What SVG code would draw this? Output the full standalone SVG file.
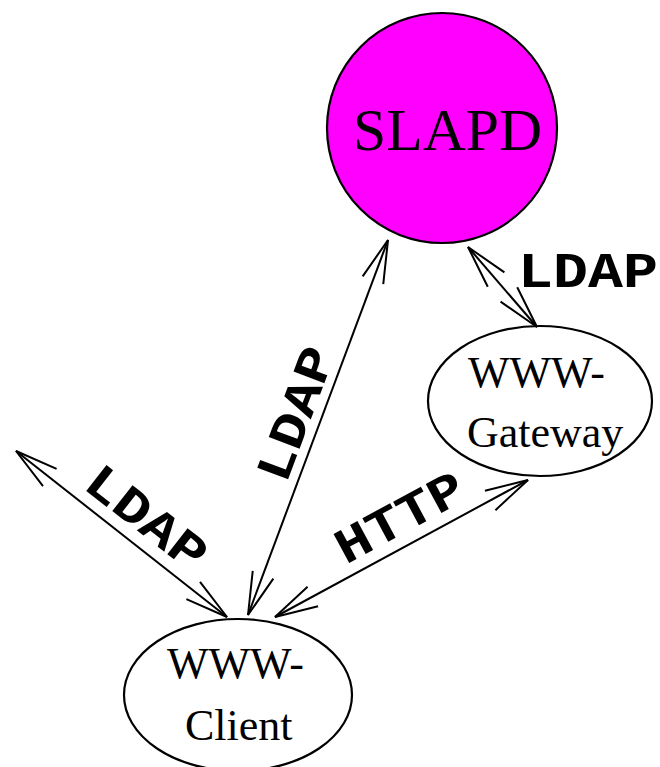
<svg xmlns="http://www.w3.org/2000/svg" width="660" height="767" viewBox="0 0 660 767">
<style>
.node{stroke:#000;stroke-width:2.2}
.lbl{font-family:"Liberation Serif","Times New Roman",serif;font-size:44px;fill:#000}
.conn{stroke:#000;stroke-width:2;fill:none}
.edge{font-family:"Liberation Mono","Courier New",monospace;font-weight:bold;font-size:50px;fill:#000}
</style>
<defs>
<marker id="ah" markerUnits="userSpaceOnUse" markerWidth="60" markerHeight="40" refX="0" refY="0" viewBox="-50 -20 60 40" orient="auto-start-reverse" overflow="visible">
<path d="M-43,-11 L0,0 L-43,11" fill="none" stroke="#000" stroke-width="2"/>
</marker>
</defs>
<g id="slapd">
<circle class="node" cx="442" cy="128" r="115" fill="#ff00ff"/>
<text class="lbl" x="353" y="150" style="font-size:59px" textLength="189" lengthAdjust="spacingAndGlyphs">SLAPD</text>
</g>
<g id="gateway">
<ellipse class="node" cx="540" cy="401" rx="112" ry="75" fill="#fff"/>
<text class="lbl" x="468" y="387">WWW-</text>
<text class="lbl" x="467" y="447">Gateway</text>
</g>
<g id="client">
<ellipse class="node" cx="238" cy="695" rx="114" ry="76" fill="#fff"/>
<text class="lbl" x="167" y="678">WWW-</text>
<text class="lbl" x="185" y="740">Client</text>
</g>
<g id="connectors">
<line class="conn" x1="468" y1="247" x2="537" y2="327" marker-start="url(#ah)" marker-end="url(#ah)"/>
<line class="conn" x1="388" y1="240" x2="248" y2="615" marker-start="url(#ah)" marker-end="url(#ah)"/>
<line class="conn" x1="16" y1="451" x2="227" y2="617" marker-start="url(#ah)" marker-end="url(#ah)"/>
<line class="conn" x1="528" y1="480" x2="275" y2="617" marker-start="url(#ah)" marker-end="url(#ah)"/>
<text class="edge" x="518" y="287" textLength="140" lengthAdjust="spacingAndGlyphs">LDAP</text>
<text class="edge" text-anchor="middle" transform="translate(130,539) rotate(38)" x="0" y="-11" textLength="140" lengthAdjust="spacingAndGlyphs">LDAP</text>
<text class="edge" text-anchor="middle" transform="translate(320,423) rotate(-69.5)" x="0" y="-10" textLength="140" lengthAdjust="spacingAndGlyphs">LDAP</text>
<text class="edge" text-anchor="middle" transform="translate(413,542) rotate(-28.4)" x="0" y="-12" textLength="140" lengthAdjust="spacingAndGlyphs">HTTP</text>
</g>
</svg>
